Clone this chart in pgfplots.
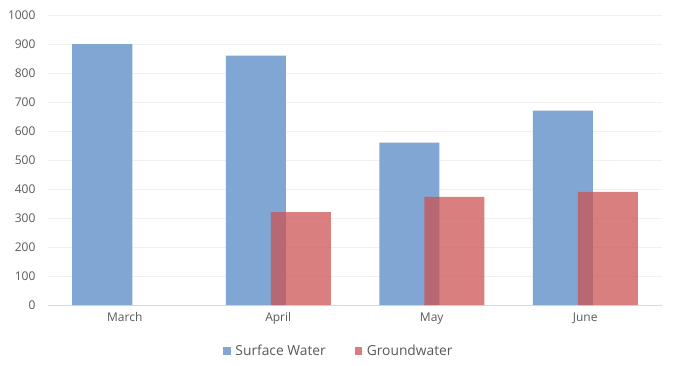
\documentclass[border=0pt]{standalone}
\usepackage{fontspec}
\setmainfont{Open Sans}
\usepackage{pgfplots}
\pgfplotsset{compat=1.18}
\definecolor{surf}{RGB}{128,166,211}
\definecolor{grnd}{RGB}{204,84,84}
\definecolor{tickc}{RGB}{89,89,89}
\definecolor{gridc}{RGB}{240,240,240}
\definecolor{basec}{RGB}{217,217,217}
\begin{document}
\begin{tikzpicture}
\useasboundingbox (-48pt,-60pt) rectangle (626pt,305pt);
\begin{axis}[
  at={(0,0)}, anchor=south west,
  scale only axis, width=614pt, height=290pt,
  xmin=-0.5, xmax=3.5, ymin=0, ymax=1000,
  xtick={0,1,2,3}, xticklabels={March,April,May,June},
  ytick={0,100,...,1000},
  axis line style={draw=none},
  major tick length=0pt,
  ymajorgrids, grid style={gridc, line width=0.8pt},
  tick label style={font=\fontsize{12}{14}\selectfont, text=tickc},
  /pgf/number format/assume math mode=true,
  /pgf/number format/1000 sep={},
  yticklabel style={xshift=-9pt},
  xticklabel style={yshift=-4pt},
  legend style={at={(rel axis cs:0.474,0)}, yshift=-46pt, anchor=center, draw=none, legend columns=2,
    font=\fontsize{13.8}{16}\selectfont, text=tickc,
    /tikz/every even column/.append style={column sep=27pt}},
  legend image code/.code={\path (0pt,0pt) -- (10pt,0pt); \fill[#1] (0pt,-3.5pt) rectangle (7.5pt,4pt);},
  clip=false,
]
\draw[basec, line width=1pt] (rel axis cs:0,0) -- (rel axis cs:1,0);
\addplot[ybar, bar width=60pt, bar shift=-22.5pt, fill=surf, draw=none] coordinates {(0,900) (1,860) (2,560) (3,670)};
\addlegendentry{Surface Water}
\addplot[ybar, bar width=60pt, bar shift=22.5pt, fill=grnd, fill opacity=0.75, draw=none] coordinates {(1,320) (2,373) (3,390)};
\addlegendentry{Groundwater}
\end{axis}
\end{tikzpicture}
\end{document}
